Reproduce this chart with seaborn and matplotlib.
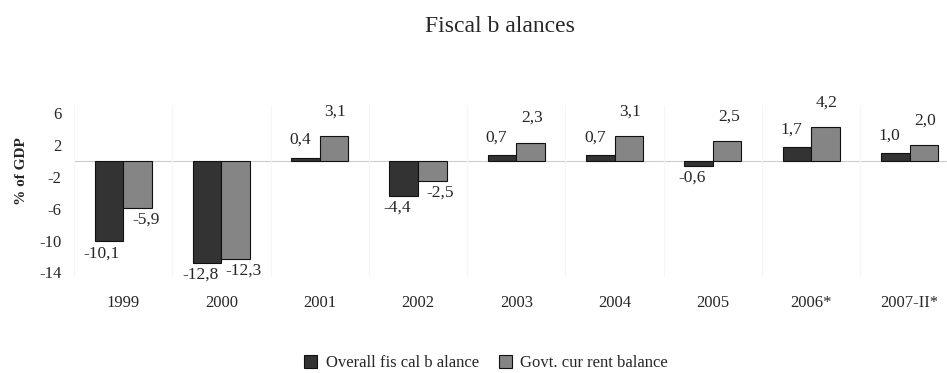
import matplotlib
matplotlib.use('Agg')
import matplotlib.pyplot as plt
import numpy as np
import pandas as pd
import seaborn as sns

# Data (% of GDP)
years = ['1999', '2000', '2001', '2002', '2003', '2004', '2005', '2006*', '2007-II*']
overall = [-10.1, -12.8, 0.4, -4.4, 0.7, 0.7, -0.6, 1.7, 1.0]
current = [-5.9, -12.3, 3.1, -2.5, 2.3, 3.1, 2.5, 4.2, 2.0]
series = ['Overall fis cal b alance', 'Govt. cur rent balance']
yticks = [6, 2, -2, -6, -10, -14]

df = pd.DataFrame({
    'year': years * 2,
    'value': overall + current,
    'series': [series[0]] * len(years) + [series[1]] * len(years),
})

sns.set_style('white')
plt.rcParams['font.family'] = ['Liberation Serif', 'DejaVu Serif']

fig = plt.figure(figsize=(9.47, 3.73), dpi=100)
ax = fig.add_axes([0.078, 0.257, 0.922, 0.461])

sns.barplot(data=df, x='year', y='value', hue='series', hue_order=series,
            palette=['#333333', '#858585'], width=0.58, edgecolor='#111111',
            linewidth=0.8, ax=ax, legend=True)

ax.axhline(0, color='#cccccc', lw=0.8, zorder=0)
for b in np.arange(-0.5, len(years), 1.0):
    ax.axvline(b, color='#f5f5f5', lw=0.8, zorder=0)
ax.set_ylim(-14.6, 7.0)
ax.set_xlim(-0.5, 8.38)
ax.set_yticks(yticks)
ax.set_yticklabels([str(t) for t in yticks], fontsize=12)
ax.tick_params(axis='y', length=0, pad=9)
ax.tick_params(axis='x', length=0, pad=13, labelsize=12)
ax.set_xlabel('')
ax.set_ylabel('')
sns.despine(ax=ax, left=True, bottom=True)

# value labels
for i, cont in enumerate(ax.containers):
    vals = overall if i == 0 else current
    for bar, v in zip(cont, vals):
        x = bar.get_x() + bar.get_width() / 2
        txt = ('%.1f' % v).replace('.', ',')
        if v >= 0:
            dx, dy = (-4, 7) if i == 0 else (1, 12)
            ax.annotate(txt, (x, v), xytext=(dx, dy), textcoords='offset points',
                        ha='center', va='bottom', fontsize=12.5)
        else:
            dx = -5 if i == 0 else 6
            ax.annotate(txt, (x, v), xytext=(dx, -3), textcoords='offset points',
                        ha='center', va='top', fontsize=12.5)

fig.text(0.023, 0.54, '% of GDP', rotation=90, ha='center', va='center',
         fontsize=11, fontweight='bold')
fig.text(0.528, 0.93, 'Fiscal b alances', ha='center', va='center', fontsize=17)

ax.legend(loc='center', bbox_to_anchor=(0.472, -0.5), ncol=2, frameon=False,
          fontsize=12, handlelength=0.8, handleheight=0.8, handletextpad=0.5,
          columnspacing=1.2)

fig.savefig('out.png', dpi=100)
